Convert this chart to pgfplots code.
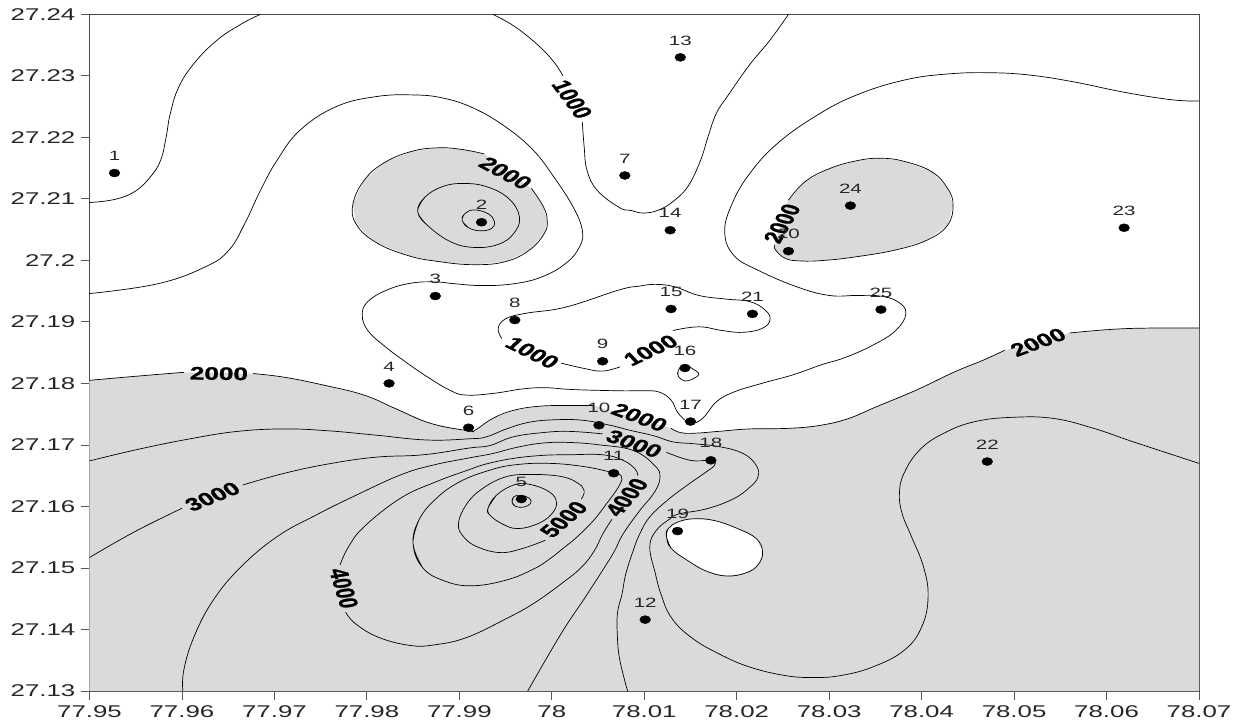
\documentclass[border=0pt]{standalone}
\usepackage{pgfplots}
\pgfplotsset{compat=1.18}
\usepackage{fontspec}
\setmainfont{Liberation Sans}
\newfontfamily\tickfont[FakeStretch=1.52]{Liberation Sans}
\newfontfamily\clab[BoldFeatures={FakeBold=1.2}]{Liberation Sans}
\definecolor{gfill}{RGB}{218,218,218}
\tikzset{clabel/.style={font=\clab\bfseries\fontsize{18}{20}\selectfont,inner sep=0pt,xscale=1.45,transform shape}}
\pgfplotsset{cline/.style={black,line width=0.7pt,smooth,tension=0.7}}
\begin{document}
\begin{tikzpicture}
\useasboundingbox (-89.5pt,-30pt) rectangle (1150.5pt,691pt);
\begin{axis}[
  at={(0pt,0pt)},anchor=origin,
  scale only axis,width=1109.5pt,height=676.7pt,
  xmin=77.95,xmax=78.07,ymin=27.13,ymax=27.24,
  xtick={77.95,77.96,77.97,77.98,77.99,78,78.01,78.02,78.03,78.04,78.05,78.06,78.07},
  xticklabels={77.95,77.96,77.97,77.98,77.99,78,78.01,78.02,78.03,78.04,78.05,78.06,78.07},
  ytick={27.13,27.14,27.15,27.16,27.17,27.18,27.19,27.2,27.21,27.22,27.23,27.24},
  yticklabels={27.13,27.14,27.15,27.16,27.17,27.18,27.19,27.2,27.21,27.22,27.23,27.24},
  tick align=outside,tickpos=left,
  major tick length=9pt,
  tick style={black!65,line width=0.8pt},
  axis line style={black!70,line width=0.9pt},
  ticklabel style={font=\tickfont\fontsize{17}{20}\selectfont,inner sep=0pt,text=black!85},
  xticklabel style={yshift=-5pt},
  yticklabel style={xshift=-5pt},
  axis on top=false,
  clip=true,
]
% grey fills
\addplot[fill=gfill,draw=none] coordinates {
(77.95,27.1805)(77.9553,27.1812)(77.9602,27.1818)(77.9677,27.1816)(77.9711,27.1810)(77.9754,27.1797)(77.9797,27.1781)(77.9831,27.1759)(77.9869,27.1735)(77.9910,27.1723)(77.9917,27.1724)(77.9936,27.1743)(77.9958,27.1756)(77.9987,27.1763)(78.0019,27.1764)(78.0045,27.1764)(78.0129,27.1727)(78.0139,27.1720)(78.0154,27.1719)(78.0180,27.1722)(78.0214,27.1726)(78.0257,27.1727)(78.0291,27.1732)(78.0321,27.1743)(78.0351,27.1762)(78.0394,27.1789)(78.0436,27.1819)(78.0467,27.1838)(78.0490,27.1854)(78.0560,27.1882)(78.0607,27.1888)(78.0650,27.1890)(78.07,27.1890)(78.07,27.13)(77.95,27.13)
} -- cycle;
\addplot[fill=gfill,draw=none] coordinates {
(77.9927,27.2173)(77.9904,27.2180)(77.9878,27.2183)(77.9848,27.2177)(77.9818,27.2158)(77.9797,27.2130)(77.9785,27.2092)(77.9788,27.2060)(77.9809,27.2030)(77.9844,27.2008)(77.9878,27.1998)(77.9916,27.1993)(77.9950,27.1998)(77.9976,27.2017)(77.9992,27.2044)(77.9995,27.2065)(77.9991,27.2087)(77.9978,27.2117)
} -- cycle;
\addplot[fill=gfill,draw=none] coordinates {
(78.0256,27.2098)(78.0274,27.2128)(78.0300,27.2149)(78.0330,27.2162)(78.0355,27.2166)(78.0381,27.2161)(78.0411,27.2144)(78.0428,27.2117)(78.0434,27.2090)(78.0428,27.2057)(78.0406,27.2033)(78.0372,27.2017)(78.0330,27.2006)(78.0295,27.2000)(78.0270,27.1999)(78.0253,27.2003)(78.0242,27.2017)(78.0241,27.2025)
} -- cycle;
\addplot[fill=white,draw=none] coordinates {
(78.0124,27.1551)(78.0126,27.1564)(78.0137,27.1575)(78.0154,27.1580)(78.0176,27.1577)(78.0201,27.1564)(78.0221,27.1548)(78.0228,27.1526)(78.0223,27.1505)(78.0210,27.1492)(78.0189,27.1487)(78.0167,27.1495)(78.0146,27.1513)(78.0129,27.1532)
} -- cycle;
% hole outline
\addplot[cline] coordinates {
(78.0129,27.1532)(78.0124,27.1551)(78.0126,27.1564)(78.0137,27.1575)(78.0154,27.1580)(78.0176,27.1577)(78.0201,27.1564)(78.0221,27.1548)(78.0228,27.1526)(78.0223,27.1505)(78.0210,27.1492)(78.0189,27.1487)(78.0167,27.1495)(78.0146,27.1513)(78.0129,27.1532)(78.0124,27.1551)(78.0126,27.1564)};
% grey 1 and grey 2 outlines
\addplot[cline] coordinates {
(77.9927,27.2173)(77.9904,27.2180)(77.9878,27.2183)(77.9848,27.2177)(77.9818,27.2158)(77.9797,27.2130)(77.9785,27.2092)(77.9788,27.2060)(77.9809,27.2030)(77.9844,27.2008)(77.9878,27.1998)(77.9916,27.1993)(77.9950,27.1998)(77.9976,27.2017)(77.9992,27.2044)(77.9995,27.2065)(77.9991,27.2087)(77.9978,27.2117)};
\addplot[cline] coordinates {
(78.0256,27.2098)(78.0274,27.2128)(78.0300,27.2149)(78.0330,27.2162)(78.0355,27.2166)(78.0381,27.2161)(78.0411,27.2144)(78.0428,27.2117)(78.0434,27.2090)(78.0428,27.2057)(78.0406,27.2033)(78.0372,27.2017)(78.0330,27.2006)(78.0295,27.2000)(78.0270,27.1999)(78.0253,27.2003)(78.0242,27.2017)(78.0241,27.2025)};
% rings around point 2
\addplot[cline] coordinates {
(77.9867,27.2055)(77.9855,27.2079)(77.9863,27.2103)(77.9882,27.2120)(77.9904,27.2125)(77.9929,27.2120)(77.9953,27.2101)(77.9965,27.2071)(77.9959,27.2044)(77.9942,27.2026)(77.9916,27.2021)(77.9891,27.2030)(77.9867,27.2055)(77.9855,27.2079)(77.9863,27.2103)};
\addplot[cline] coordinates {
(77.9910,27.2053)(77.9903,27.2065)(77.9906,27.2076)(77.9916,27.2082)(77.9931,27.2076)(77.9938,27.2063)(77.9935,27.2052)(77.9923,27.2048)(77.9910,27.2053)(77.9903,27.2065)(77.9906,27.2076)};
% upper-left contour
\addplot[cline] coordinates {
(77.95,27.2094)(77.9527,27.2099)(77.9549,27.2112)(77.9566,27.2136)(77.9577,27.2163)(77.9583,27.2201)(77.9587,27.2236)(77.9596,27.2280)(77.9613,27.2320)(77.9638,27.2358)(77.9664,27.2384)(77.9685,27.24)};
% top contour with 1000 label
\addplot[cline] coordinates {
(77.9936,27.24)(77.9959,27.2381)(77.9985,27.2350)(78.0002,27.2323)(78.0012,27.2300)};
\addplot[cline] coordinates {
(78.0033,27.2225)(78.0035,27.2185)(78.0038,27.2147)(78.0049,27.2114)(78.0073,27.2086)(78.0086,27.2081)(78.0099,27.2077)(78.0116,27.2082)(78.0133,27.2098)(78.0148,27.2122)(78.0161,27.2163)(78.0169,27.2201)(78.0178,27.2239)(78.0191,27.2269)(78.0214,27.2318)(78.0236,27.2358)(78.0256,27.24)};
% long contour from left to right edge
\addplot[cline] coordinates {
(77.95,27.1946)(77.9574,27.1962)(77.9626,27.1990)(77.9651,27.2017)(77.9668,27.2060)(77.9685,27.2114)(77.9703,27.2163)(77.9728,27.2212)(77.9767,27.2250)(77.9809,27.2266)(77.9848,27.2269)(77.9882,27.2264)(77.9916,27.2247)(77.9950,27.2217)(77.9980,27.2179)(78.0002,27.2136)(78.0023,27.2087)(78.0033,27.2049)(78.0030,27.2022)(78.0015,27.1995)(77.9989,27.1973)(77.9959,27.1962)(77.9925,27.1959)(77.9895,27.1962)(77.9874,27.1965)(77.9848,27.1963)(77.9822,27.1952)(77.9801,27.1933)(77.9795,27.1911)(77.9801,27.1886)(77.9818,27.1862)(77.9839,27.1838)(77.9865,27.1811)(77.9891,27.1788)(77.9908,27.1781)(77.9938,27.1784)(77.9968,27.1791)(77.9993,27.1793)(78.0023,27.1790)(78.0073,27.1788)(78.0099,27.1788)(78.0116,27.1786)(78.0129,27.1773)(78.0137,27.1751)(78.0150,27.1736)(78.0163,27.1743)(78.0178,27.1770)(78.0197,27.1786)(78.0227,27.18)(78.0261,27.1814)(78.0291,27.1830)(78.0317,27.1842)(78.0347,27.1862)(78.0372,27.1886)(78.0383,27.1914)(78.0374,27.1933)(78.0355,27.1942)(78.0330,27.1943)(78.0300,27.1943)(78.0265,27.1957)(78.0223,27.1984)(78.0197,27.2008)(78.0187,27.2046)(78.0195,27.2092)(78.0214,27.2141)(78.0244,27.2190)(78.0287,27.2236)(78.0330,27.2269)(78.0381,27.2293)(78.0428,27.2303)(78.0475,27.2305)(78.0518,27.2301)(78.0565,27.2290)(78.0620,27.2273)(78.0671,27.2261)(78.07,27.2259)};
% inner 1000 loop
\addplot[cline] coordinates {
(77.9946,27.1873)(77.9942,27.1889)(77.9950,27.1905)(77.9972,27.1914)(78.0015,27.1924)(78.0073,27.1952)(78.0094,27.1958)(78.0112,27.1961)(78.0133,27.1957)(78.0159,27.1943)(78.0189,27.1937)(78.0214,27.1933)(78.0231,27.1919)(78.0236,27.1903)(78.0227,27.1889)(78.0206,27.1883)(78.0184,27.1886)(78.0159,27.1892)(78.0131,27.1886)};
\addplot[cline] coordinates {
(78.0010,27.1833)(78.0036,27.1824)(78.0055,27.1820)(78.0074,27.1827)};
% small loop at 16
\addplot[cline] coordinates {
(78.0137,27.1811)(78.0137,27.1822)(78.0144,27.1830)(78.0152,27.1824)(78.0159,27.1815)(78.0152,27.1807)(78.0144,27.1804)(78.0137,27.1811)(78.0137,27.1822)(78.0144,27.1830)};
% main 2000 boundary, four pieces
\addplot[cline] coordinates {(77.95,27.1805)(77.9553,27.1812)(77.9602,27.1818)};
\addplot[cline] coordinates {
(77.9677,27.1816)(77.9711,27.1810)(77.9754,27.1797)(77.9797,27.1781)(77.9831,27.1759)(77.9869,27.1735)(77.9910,27.1723)(77.9917,27.1724)(77.9936,27.1743)(77.9958,27.1756)(77.9987,27.1763)(78.0019,27.1764)(78.0045,27.1764)};
\addplot[cline] coordinates {
(78.0129,27.1727)(78.0139,27.1720)(78.0154,27.1719)(78.0180,27.1722)(78.0214,27.1726)(78.0257,27.1727)(78.0291,27.1732)(78.0321,27.1743)(78.0351,27.1762)(78.0394,27.1789)(78.0436,27.1819)(78.0467,27.1838)(78.0490,27.1854)};
\addplot[cline] coordinates {(78.0560,27.1882)(78.0607,27.1888)(78.0650,27.1890)(78.07,27.1890)};
% line b
\addplot[cline] coordinates {
(77.95,27.1674)(77.9553,27.1693)(77.9609,27.1710)(77.9660,27.1722)(77.9711,27.1726)(77.9758,27.1723)(77.9809,27.1716)(77.9865,27.1708)(77.9911,27.1710)(77.9929,27.1713)(77.9951,27.1726)(77.9976,27.1737)(78.0005,27.1741)(78.0034,27.1740)(78.0063,27.1732)(78.0084,27.1724)(78.0110,27.1715)(78.0131,27.1705)(78.0153,27.1702)(78.0182,27.1697)(78.0207,27.1686)(78.0221,27.1667)(78.0223,27.1648)(78.0214,27.1631)(78.0196,27.1612)(78.0167,27.1596)(78.0138,27.1588)(78.0128,27.1580)(78.0113,27.1561)(78.0106,27.1534)(78.0112,27.1491)(78.0118,27.1458)(78.0129,27.1420)(78.0150,27.1388)(78.0180,27.1361)(78.0214,27.1339)(78.0253,27.1325)(78.0283,27.1322)(78.0312,27.1325)(78.0347,27.1339)(78.0381,27.1366)(78.0400,27.1404)(78.0407,27.1453)(78.0402,27.1502)(78.0389,27.1551)(78.0379,27.1588)(78.0376,27.1621)(78.0381,27.1654)(78.0398,27.1692)(78.0424,27.1719)(78.0458,27.1738)(78.0500,27.1745)(78.0543,27.1743)(78.0586,27.1727)(78.0629,27.1705)(78.07,27.1670)};
% line c (3000)
\addplot[cline] coordinates {(77.95,27.1517)(77.9549,27.1559)(77.9600,27.1597)};
\addplot[cline] coordinates {
(77.9666,27.1635)(77.9711,27.1654)(77.9758,27.1669)(77.9809,27.1680)(77.9861,27.1684)(77.9911,27.1695)(77.9933,27.1699)(77.9958,27.1713)(77.9990,27.1720)(78.0019,27.1722)(78.0055,27.1718)};
\addplot[cline] coordinates {
(78.0124,27.1688)(78.0142,27.1678)(78.0156,27.1674)(78.0173,27.1675)(78.0176,27.1667)(78.0164,27.1653)(78.0146,27.1634)(78.0125,27.1610)(78.0106,27.1583)(78.0095,27.1555)(78.0088,27.1528)(78.0080,27.1490)(78.0076,27.1458)(78.0071,27.1426)(78.0071,27.1387)(78.0073,27.1355)(78.0078,27.1322)(78.0082,27.13)};
% line d
\addplot[cline] coordinates {
(77.9601,27.13)(77.9602,27.1334)(77.9613,27.1388)(77.9634,27.1448)(77.9664,27.1502)(77.9703,27.1551)(77.9745,27.1586)(77.9788,27.1618)(77.9836,27.1651)(77.9871,27.1667)(77.9911,27.1679)(77.9936,27.1686)(77.9962,27.1696)(77.9990,27.1703)(78.0019,27.1704)(78.0052,27.1700)(78.0088,27.1691)(78.0111,27.1667)(78.0117,27.1648)(78.0111,27.1623)(78.0095,27.1593)(78.0077,27.1555)(78.0068,27.1528)(78.0057,27.1501)(78.0036,27.1452)(78.0010,27.1393)(77.9974,27.13)};
% ring 5 (4000), two pieces
\addplot[cline] coordinates {
(77.9771,27.1505)(77.9780,27.1534)(77.9797,27.1567)(77.9836,27.1613)(77.9873,27.1639)(77.9911,27.1660)(77.9929,27.1669)(77.9958,27.1678)(77.9990,27.1683)(78.0019,27.1684)(78.0055,27.1684)(78.0077,27.1675)(78.0090,27.1661)(78.0093,27.1650)};
\addplot[cline] coordinates {
(78.0065,27.1579)(78.0055,27.1555)(78.0046,27.1528)(78.0032,27.1501)(78.0010,27.1474)(77.9980,27.1442)(77.9950,27.1417)(77.9908,27.1387)(77.9873,27.1375)(77.9847,27.1374)(77.9813,27.1387)(77.9788,27.1409)(77.9777,27.1428)};
% ring 4
\addplot[cline] coordinates {
(77.9860,27.1501)(77.9850,27.1539)(77.9856,27.1577)(77.9873,27.1610)(77.9899,27.1639)(77.9933,27.1659)(77.9962,27.1668)(77.9998,27.1670)(78.0034,27.1665)(78.0063,27.1656)(78.0075,27.1650)(78.0073,27.1634)(78.0059,27.1604)(78.0045,27.1577)(78.0027,27.1550)(78.0014,27.1534)(77.9998,27.1515)(77.9980,27.1498)(77.9950,27.1480)(77.9912,27.1471)(77.9882,27.1480)(77.9860,27.1501)(77.9850,27.1539)(77.9856,27.1577)};
% ring 3 (5000)
\addplot[cline] coordinates {
(78.0032,27.1612)(78.0035,27.1626)(78.0027,27.1639)(78.0009,27.1649)(77.9976,27.1652)(77.9950,27.1648)(77.9925,27.1629)(77.9908,27.1604)(77.9899,27.1572)(77.9905,27.1550)(77.9920,27.1534)(77.9944,27.1525)(77.9967,27.1531)(77.9993,27.1545)};
% ring 2
\addplot[cline] coordinates {
(77.9933,27.1586)(77.9931,27.1597)(77.9940,27.1618)(77.9959,27.1635)(77.9976,27.1636)(77.9997,27.1624)(78.0005,27.1607)(78.0000,27.1588)(77.9985,27.1572)(77.9963,27.1564)(77.9946,27.1572)(77.9933,27.1586)(77.9931,27.1597)(77.9940,27.1618)};
% ring 1
\addplot[cline] coordinates {
(77.9961,27.1600)(77.9957,27.1607)(77.9959,27.1616)(77.9967,27.1618)(77.9976,27.1613)(77.9977,27.1605)(77.9970,27.1599)(77.9961,27.1600)(77.9957,27.1607)(77.9959,27.1616)};
% data points
\addplot[only marks,mark=*,mark size=4pt,black,
  every mark/.append style={xscale=1.35},
  point meta=explicit symbolic,nodes near coords,
  every node near coord/.style={anchor=center,yshift=17pt,inner sep=0pt,text=black!85,
    font=\tickfont\fontsize{13.5}{15}\selectfont}]
  table[x=x,y=y,meta=n] {
x y n
77.9527 27.2142 1
77.9924 27.2062 2
77.9874 27.1942 3
77.9824 27.18 4
77.9967 27.1612 5
77.9910 27.1728 6
78.0079 27.2138 7
77.9960 27.1903 8
78.0055 27.1836 9
78.0051 27.1732 10
78.0067 27.1654 11
78.0101 27.1416 12
78.0139 27.2330 13
78.0128 27.2049 14
78.0129 27.1921 15
78.0144 27.1825 16
78.0150 27.1738 17
78.0172 27.1675 18
78.0136 27.1560 19
78.0256 27.2015 20
78.0217 27.1913 21
78.0471 27.1673 22
78.0619 27.2053 23
78.0323 27.2089 24
78.0356 27.1920 25
};
% contour labels
\node[clabel,rotate=-63] at (axis cs:78.0022,27.2262) {1000};
\node[clabel,rotate=-38] at (axis cs:77.9950,27.2142) {2000};
\node[clabel,rotate=68] at (axis cs:78.0249,27.2060) {2000};
\node[clabel,rotate=-36] at (axis cs:77.9979,27.1850) {1000};
\node[clabel,rotate=34] at (axis cs:78.0107,27.1854) {1000};
\node[clabel,rotate=-1] at (axis cs:77.9640,27.1816) {2000};
\node[clabel,rotate=28] at (axis cs:78.0526,27.1867) {2000};
\node[clabel,rotate=-28] at (axis cs:78.0095,27.1745) {2000};
\node[clabel,rotate=-27] at (axis cs:78.0089,27.1702) {3000};
\node[clabel,rotate=30] at (axis cs:77.9633,27.1616) {3000};
\node[clabel,rotate=-78] at (axis cs:77.9775,27.1467) {4000};
\node[clabel,rotate=51] at (axis cs:78.0013,27.1579) {5000};
\node[clabel,rotate=59] at (axis cs:78.0081,27.1615) {4000};
\end{axis}
\end{tikzpicture}
\end{document}
